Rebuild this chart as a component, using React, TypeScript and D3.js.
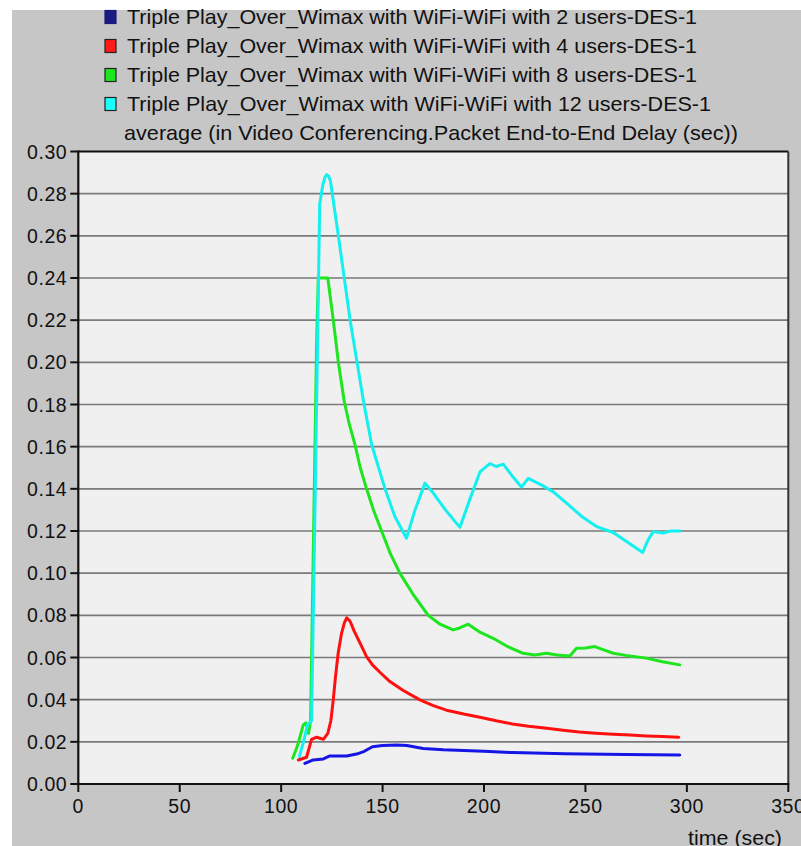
import React from "react";
import * as d3 from "d3";

const seriesNames = [
  "Triple Play_Over_Wimax with WiFi-WiFi with 2 users-DES-1",
  "Triple Play_Over_Wimax with WiFi-WiFi with 4 users-DES-1",
  "Triple Play_Over_Wimax with WiFi-WiFi with 8 users-DES-1",
  "Triple Play_Over_Wimax with WiFi-WiFi with 12 users-DES-1",
];
const subtitle = "average (in Video Conferencing.Packet End-to-End Delay (sec))";
const xLabel = "time (sec)";

const xTicks = [0, 50, 100, 150, 200, 250, 300, 350];
const yTicks = [0, 0.02, 0.04, 0.06, 0.08, 0.1, 0.12, 0.14, 0.16, 0.18, 0.2, 0.22, 0.24, 0.26, 0.28, 0.3];

const users2: [number, number][] = [
  [111.7, 0.0098], [115.8, 0.0114], [120.8, 0.0119], [124, 0.0133], [132.3, 0.0133],
  [137.2, 0.0142], [141, 0.0155], [145, 0.0177], [150, 0.0183], [157, 0.0185],
  [162, 0.0183], [170, 0.0168], [180, 0.0162], [200, 0.0155], [214, 0.0149],
  [240, 0.0143], [270, 0.014], [296.5, 0.0138],
];
const users4: [number, number][] = [
  [108.5, 0.0114], [112.5, 0.0127], [115, 0.0212], [117.5, 0.0222], [120.8, 0.0212],
  [123, 0.024], [124.5, 0.03], [125.7, 0.04], [126.8, 0.051], [128.1, 0.062],
  [129.8, 0.0716], [131.2, 0.0765], [132.3, 0.0788], [134, 0.0772], [136, 0.0725],
  [138.9, 0.0668], [142.1, 0.0604], [145, 0.0565], [148.7, 0.053], [153.6, 0.0486],
  [160, 0.0445], [168.4, 0.0399], [175, 0.0372], [181.5, 0.035], [190, 0.0332],
  [198, 0.0317], [206, 0.03], [214, 0.0285], [222, 0.0274], [231, 0.0264],
  [239, 0.0255], [247, 0.0247], [255, 0.0241], [263.6, 0.0236], [272, 0.0232],
  [280, 0.0228], [288, 0.0225], [296, 0.0222],
];
const users8: [number, number][] = [
  [105.7, 0.0122], [108, 0.018], [110.9, 0.028], [112.2, 0.029], [113.5, 0.024],
  [114.5, 0.03], [116, 0.12], [117.5, 0.21], [118.3, 0.24], [123, 0.24],
  [125.7, 0.22], [128.2, 0.2], [131, 0.182], [133.5, 0.171], [136.4, 0.161],
  [139, 0.15], [142.1, 0.14], [145.5, 0.13], [149.5, 0.12], [153.5, 0.11],
  [158.5, 0.1], [165, 0.09], [172.5, 0.08], [178, 0.076], [184.8, 0.0731],
  [188, 0.074], [192.2, 0.0758], [198, 0.072], [204.5, 0.0691], [212, 0.065],
  [219.3, 0.062], [225, 0.0612], [230.8, 0.062], [236, 0.0612], [242.3, 0.0607],
  [245.6, 0.0644], [250, 0.0645], [254.6, 0.0652], [258, 0.064], [263.7, 0.062],
  [270, 0.061], [280, 0.0597], [288, 0.058], [296.5, 0.0565],
];
const users12: [number, number][] = [
  [109, 0.013], [111, 0.02], [113, 0.028], [115, 0.03], [117, 0.15], [119, 0.275],
  [120.5, 0.284], [121.5, 0.2875], [122.4, 0.289], [123.3, 0.2885], [124.3, 0.286],
  [128.2, 0.26], [134, 0.22], [140.5, 0.182], [144.6, 0.161], [151.2, 0.14],
  [156, 0.127], [161.8, 0.1166], [166, 0.13], [170.9, 0.1427], [175, 0.138],
  [181, 0.13], [188.1, 0.1217], [193, 0.135], [198, 0.148], [202.9, 0.152],
  [206, 0.1506], [209.5, 0.1517], [214, 0.146], [218.5, 0.1408], [221.8, 0.145],
  [228, 0.142], [234, 0.1387], [241, 0.133], [248, 0.127], [255.5, 0.1221],
  [263.7, 0.1193], [271, 0.1145], [278.2, 0.1098], [281, 0.116], [283.4, 0.1197],
  [288.3, 0.119], [292, 0.12], [296.5, 0.12],
];

const seriesData = [users2, users4, users8, users12];
const lineColors = ["#1515e6", "#ff1010", "#1ee61e", "#14f0f0"];
const swatchColors = ["#1a1a80", "#ff1a1a", "#1ee61e", "#19ffff"];
const legendWidths = [570, 570, 570, 584];

export default function App() {
  const W = 801, H = 846;
  const left = 78.3, right = 788.3, top = 151.5, bottom = 784;
  const x = d3.scaleLinear().domain([0, 350]).range([left, right]);
  const y = d3.scaleLinear().domain([0, 0.3]).range([bottom, top]);
  const line = d3.line<[number, number]>().x((d) => x(d[0])).y((d) => y(d[1]));
  const font = "'Liberation Sans Narrow', 'Liberation Sans', Arial, sans-serif";
  const tickFont = "'Liberation Sans', Arial, sans-serif";

  return (
    <svg
      width={W}
      height={H}
      style={{ position: "absolute", left: 0, top: 0, display: "block" }}
      fontFamily={font}
    >
      <rect x={0} y={0} width={W} height={H} fill="#ffffff" />
      <rect x={12} y={10} width={W - 12} height={H - 10} fill="#c6c6c6" />
      <rect x={left} y={top} width={right - left} height={bottom - top} fill="#f0f0f0" />

      {/* legend */}
      {seriesNames.map((name, i) => {
        const cy = 17 + i * 29;
        return (
          <g key={name}>
            <rect
              x={105}
              y={cy - 6.5}
              width={11}
              height={13}
              fill={swatchColors[i]}
              stroke={i === 0 ? "#1a1a80" : "#222"}
              strokeWidth={1.2}
            />
            <text
              x={127}
              y={cy + 7}
              fontSize={21}
              fill="#111"
              textLength={legendWidths[i]}
              lengthAdjust="spacingAndGlyphs"
            >
              {name}
            </text>
          </g>
        );
      })}
      <text
        x={124}
        y={140}
        fontSize={21}
        fill="#111"
        textLength={614}
        lengthAdjust="spacingAndGlyphs"
      >
        {subtitle}
      </text>

      {/* grid */}
      {yTicks.slice(1, -1).map((t) => (
        <line key={"g" + t} x1={left} x2={right} y1={y(t)} y2={y(t)} stroke="#7a7a7a" strokeWidth={1.6} />
      ))}

      {/* series */}
      {seriesData.map((s, i) => (
        <path
          key={"s" + i}
          d={line(s) || ""}
          fill="none"
          stroke={lineColors[i]}
          strokeWidth={3}
          strokeLinejoin="round"
          strokeLinecap="round"
        />
      ))}

      {/* frame */}
      <line x1={left} x2={right} y1={top} y2={top} stroke="#111" strokeWidth={2.2} />
      <line x1={right} x2={right} y1={top} y2={bottom} stroke="#333" strokeWidth={2} />
      <line x1={left} x2={left} y1={top - 1} y2={bottom + 1} stroke="#111" strokeWidth={2.2} />
      <line x1={left - 1} x2={right + 1} y1={bottom} y2={bottom} stroke="#111" strokeWidth={2.2} />

      {/* y ticks */}
      {yTicks.map((t) => (
        <g key={"y" + t}>
          <line x1={left - 8} x2={left} y1={y(t)} y2={y(t)} stroke="#111" strokeWidth={2} />
          <text x={left - 11} y={y(t) + 7} fontSize={19.5} textAnchor="end" fill="#111" letterSpacing={0.6} fontFamily={tickFont}>
            {d3.format(".2f")(t)}
          </text>
        </g>
      ))}

      {/* x ticks */}
      {xTicks.map((t) => (
        <g key={"x" + t}>
          <line x1={x(t)} x2={x(t)} y1={bottom} y2={bottom + 8} stroke="#111" strokeWidth={2} />
          <text x={x(t)} y={bottom + 29} fontSize={19.5} textAnchor="middle" fill="#111" letterSpacing={0.6} fontFamily={tickFont}>
            {t}
          </text>
        </g>
      ))}

      <text x={688} y={845} fontSize={21} fill="#111" textLength={94} lengthAdjust="spacingAndGlyphs">
        {xLabel}
      </text>
    </svg>
  );
}
